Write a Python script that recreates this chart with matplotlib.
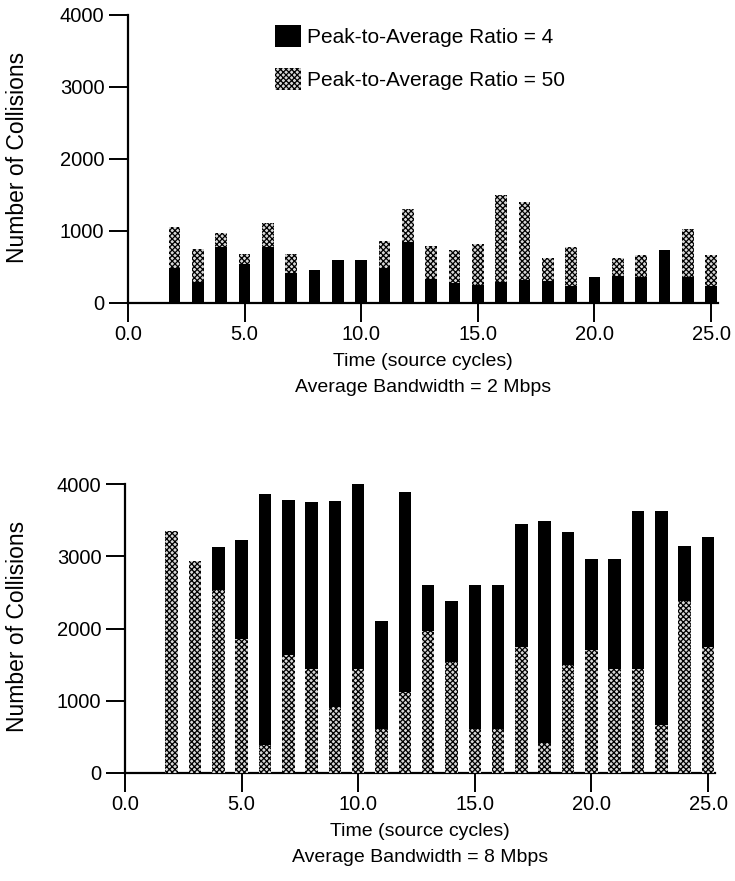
import numpy as np
import matplotlib.pyplot as plt
from matplotlib.patches import Patch

plt.rcParams['font.family'] = ['Liberation Sans', 'DejaVu Sans']
plt.rcParams['hatch.linewidth'] = 0.9

# source cycle of each bar
cycles = np.arange(2, 26)

# average bandwidth = 2 Mbps
ratio4_2mbps = [490, 290, 780, 535, 780, 420, 460, 595, 595, 480, 850, 335,
                280, 255, 290, 315, 310, 235, 365, 370, 365, 735, 365, 240]
ratio50_2mbps = [1050, 750, 975, 685, 1115, 675, 0, 0, 0, 860, 1300, 790,
                 735, 815, 1495, 1405, 630, 775, 0, 630, 660, 0, 1030, 660]

# average bandwidth = 8 Mbps
ratio4_8mbps = [0, 0, 3125, 3225, 3855, 3780, 3745, 3770, 4000, 2110, 3895, 2605,
                2380, 2605, 2605, 3445, 3490, 3340, 2965, 2965, 3630, 3630, 3145, 3260]
ratio50_8mbps = [3350, 2940, 2535, 1855, 385, 1635, 1445, 910, 1440, 610, 1115, 1970,
                 1530, 610, 610, 1740, 415, 1500, 1705, 1440, 1440, 670, 2380, 1740]

yticks = [0, 1000, 2000, 3000, 4000]
xticks = [0, 5, 10, 15, 20, 25]
labels = ["Peak-to-Average Ratio = 4", "Peak-to-Average Ratio = 50"]

solid = dict(color="black", linewidth=0)
speckle = dict(facecolor="#d8d8d8", edgecolor="black", hatch="xxxxxx", linewidth=0)

W, H = 735, 881
fig = plt.figure(figsize=(W / 100, H / 100), dpi=100)


def make_axes(left, bottom_px, top_px):
    ax = fig.add_axes([left / W, 1 - bottom_px / H, 590 / W, (bottom_px - top_px) / H])
    ax.set_xlim(0, 25.3)
    ax.set_ylim(0, 4000)
    for side in ("top", "right"):
        ax.spines[side].set_visible(False)
    for side in ("left", "bottom"):
        ax.spines[side].set_linewidth(1.6)
    ax.set_yticks(yticks)
    ax.set_xticks(xticks)
    ax.set_xticklabels([f"{t:.1f}" for t in xticks])
    ax.tick_params(length=14, width=1.4, labelsize=14.5, pad=3)
    ax.tick_params(axis="x", pad=2)
    return ax


def footer(ax, height_px, text):
    ax.text(0.5, -59 / height_px, "Time (source cycles)", transform=ax.transAxes,
            ha="center", va="center", fontsize=14)
    ax.text(0.5, -85 / height_px, text, transform=ax.transAxes,
            ha="center", va="center", fontsize=14)


# upper panel: ratio 50 bars sit behind ratio 4 bars
ax1 = make_axes(128, 303, 15)
ax1.bar(cycles, ratio50_2mbps, width=0.5, zorder=2, **speckle)
ax1.bar(cycles, ratio4_2mbps, width=0.5, zorder=3, **solid)
footer(ax1, 288, "Average Bandwidth = 2 Mbps")
fig.text(18 / W, 1 - 157 / H, "Number of Collisions", rotation=90,
         ha="center", va="center", fontsize=16.5)

handles = [Patch(**solid), Patch(**speckle)]
ax1.legend(handles, labels, loc="upper left", bbox_to_anchor=((275 - 128) / 590, 0.965),
           frameon=False, fontsize=15, handlelength=1.25, handleheight=1.25,
           handletextpad=0.3, labelspacing=1.0, borderpad=0, borderaxespad=0)

# lower panel: ratio 50 bars drawn in front of ratio 4 bars
ax2 = make_axes(125, 773, 484)
ax2.bar(cycles, ratio4_8mbps, width=0.54, zorder=2, **solid)
ax2.bar(cycles, ratio50_8mbps, width=0.54, zorder=3, **speckle)
footer(ax2, 289, "Average Bandwidth = 8 Mbps")
fig.text(18 / W, 1 - 626 / H, "Number of Collisions", rotation=90,
         ha="center", va="center", fontsize=16.5)

fig.savefig("out.png", dpi=100)
